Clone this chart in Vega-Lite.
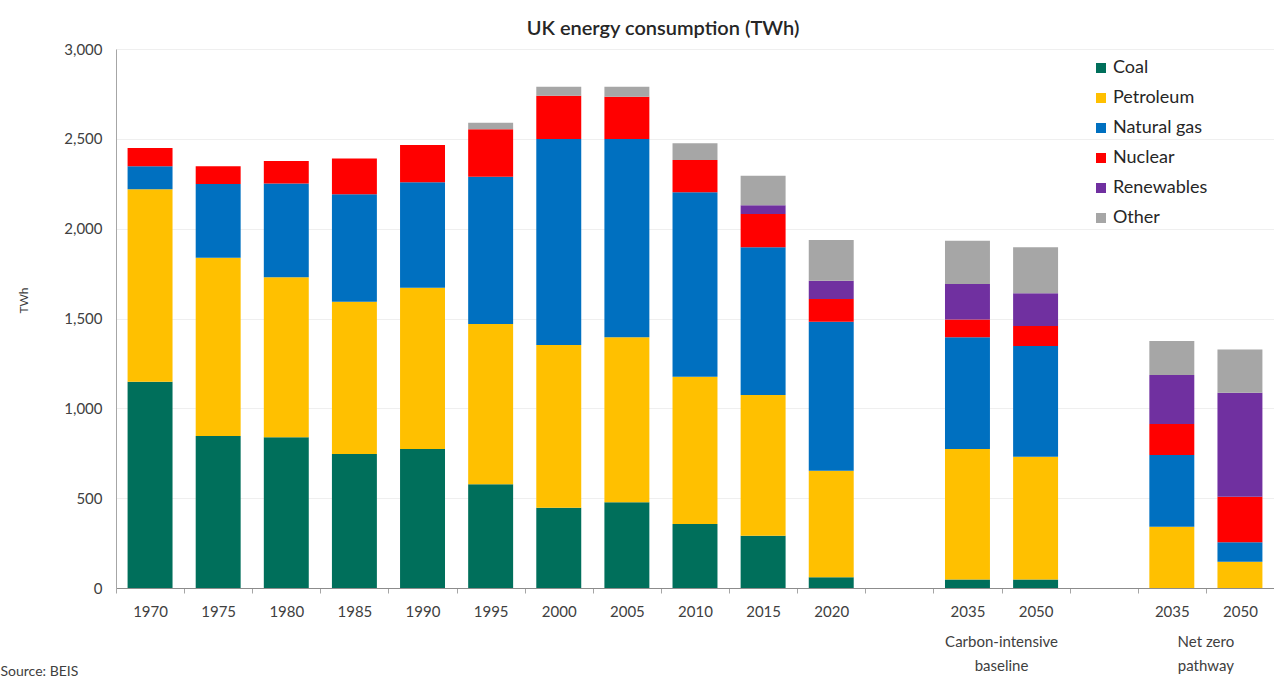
{
  "$schema": "https://vega.github.io/schema/vega-lite/v6.json",
  "width": 1158,
  "height": 539,
  "autosize": {"type": "none"},
  "padding": {"left": 116, "top": 49, "right": 0, "bottom": 89},
  "background": "white",
  "config": {
    "font": "Lato",
    "view": {"stroke": null}
  },
  "title": {
    "text": "UK energy consumption (TWh)",
    "fontSize": 20,
    "fontWeight": 600,
    "color": "#262626",
    "anchor": "middle",
    "dx": -32,
    "offset": 3
  },
  "datasets": {
    "energy": [
      {"cat": "1970", "source": "Coal", "twh": 1148},
      {"cat": "1970", "source": "Petroleum", "twh": 1071},
      {"cat": "1970", "source": "Natural gas", "twh": 129},
      {"cat": "1970", "source": "Nuclear", "twh": 101},
      {"cat": "1975", "source": "Coal", "twh": 846},
      {"cat": "1975", "source": "Petroleum", "twh": 992},
      {"cat": "1975", "source": "Natural gas", "twh": 410},
      {"cat": "1975", "source": "Nuclear", "twh": 100},
      {"cat": "1980", "source": "Coal", "twh": 839},
      {"cat": "1980", "source": "Petroleum", "twh": 890},
      {"cat": "1980", "source": "Natural gas", "twh": 523},
      {"cat": "1980", "source": "Nuclear", "twh": 124},
      {"cat": "1985", "source": "Coal", "twh": 746},
      {"cat": "1985", "source": "Petroleum", "twh": 847},
      {"cat": "1985", "source": "Natural gas", "twh": 598},
      {"cat": "1985", "source": "Nuclear", "twh": 200},
      {"cat": "1990", "source": "Coal", "twh": 774},
      {"cat": "1990", "source": "Petroleum", "twh": 897},
      {"cat": "1990", "source": "Natural gas", "twh": 587},
      {"cat": "1990", "source": "Nuclear", "twh": 207},
      {"cat": "1995", "source": "Coal", "twh": 577},
      {"cat": "1995", "source": "Petroleum", "twh": 892},
      {"cat": "1995", "source": "Natural gas", "twh": 820},
      {"cat": "1995", "source": "Nuclear", "twh": 265},
      {"cat": "1995", "source": "Other", "twh": 36},
      {"cat": "2000", "source": "Coal", "twh": 447},
      {"cat": "2000", "source": "Petroleum", "twh": 905},
      {"cat": "2000", "source": "Natural gas", "twh": 1147},
      {"cat": "2000", "source": "Nuclear", "twh": 241},
      {"cat": "2000", "source": "Other", "twh": 50},
      {"cat": "2005", "source": "Coal", "twh": 477},
      {"cat": "2005", "source": "Petroleum", "twh": 918},
      {"cat": "2005", "source": "Natural gas", "twh": 1104},
      {"cat": "2005", "source": "Nuclear", "twh": 235},
      {"cat": "2005", "source": "Other", "twh": 56},
      {"cat": "2010", "source": "Coal", "twh": 356},
      {"cat": "2010", "source": "Petroleum", "twh": 820},
      {"cat": "2010", "source": "Natural gas", "twh": 1026},
      {"cat": "2010", "source": "Nuclear", "twh": 180},
      {"cat": "2010", "source": "Other", "twh": 93},
      {"cat": "2015", "source": "Coal", "twh": 291},
      {"cat": "2015", "source": "Petroleum", "twh": 783},
      {"cat": "2015", "source": "Natural gas", "twh": 822},
      {"cat": "2015", "source": "Nuclear", "twh": 185},
      {"cat": "2015", "source": "Renewables", "twh": 50},
      {"cat": "2015", "source": "Other", "twh": 164},
      {"cat": "2020", "source": "Coal", "twh": 60},
      {"cat": "2020", "source": "Petroleum", "twh": 593},
      {"cat": "2020", "source": "Natural gas", "twh": 829},
      {"cat": "2020", "source": "Nuclear", "twh": 126},
      {"cat": "2020", "source": "Renewables", "twh": 102},
      {"cat": "2020", "source": "Other", "twh": 227},
      {"cat": "CI 2035", "source": "Coal", "twh": 48},
      {"cat": "CI 2035", "source": "Petroleum", "twh": 726},
      {"cat": "CI 2035", "source": "Natural gas", "twh": 621},
      {"cat": "CI 2035", "source": "Nuclear", "twh": 100},
      {"cat": "CI 2035", "source": "Renewables", "twh": 197},
      {"cat": "CI 2035", "source": "Other", "twh": 241},
      {"cat": "CI 2050", "source": "Coal", "twh": 48},
      {"cat": "CI 2050", "source": "Petroleum", "twh": 683},
      {"cat": "CI 2050", "source": "Natural gas", "twh": 616},
      {"cat": "CI 2050", "source": "Nuclear", "twh": 111},
      {"cat": "CI 2050", "source": "Renewables", "twh": 182},
      {"cat": "CI 2050", "source": "Other", "twh": 256},
      {"cat": "NZ 2035", "source": "Petroleum", "twh": 341},
      {"cat": "NZ 2035", "source": "Natural gas", "twh": 399},
      {"cat": "NZ 2035", "source": "Nuclear", "twh": 173},
      {"cat": "NZ 2035", "source": "Renewables", "twh": 272},
      {"cat": "NZ 2035", "source": "Other", "twh": 190},
      {"cat": "NZ 2050", "source": "Petroleum", "twh": 146},
      {"cat": "NZ 2050", "source": "Natural gas", "twh": 108},
      {"cat": "NZ 2050", "source": "Nuclear", "twh": 254},
      {"cat": "NZ 2050", "source": "Renewables", "twh": 579},
      {"cat": "NZ 2050", "source": "Other", "twh": 241}
    ],
    "groups": [
      {"cat": "CI 2035", "label": "Carbon-intensive\nbaseline"},
      {"cat": "NZ 2035", "label": "Net zero\npathway"}
    ]
  },
  "encoding": {
    "x": {
      "field": "cat",
      "type": "nominal",
      "scale": {
        "domain": ["1970", "1975", "1980", "1985", "1990", "1995", "2000", "2005", "2010", "2015", "2020", "gap1", "CI 2035", "CI 2050", "gap2", "NZ 2035", "NZ 2050"],
        "paddingInner": 0,
        "paddingOuter": 0
      },
      "axis": {
        "title": "Source: BEIS",
        "titleFontSize": 14,
        "titleFontWeight": "normal",
        "titleColor": "#404040",
        "titleAnchor": "start",
        "titleAlign": "left",
        "titleBaseline": "alphabetic",
        "titleX": -116,
        "titleY": 87,
        "labelExpr": "replace(datum.label, /^(gap.*|CI |NZ )/, '')",
        "labelAngle": 0,
        "labelFontSize": 15,
        "labelColor": "#404040",
        "labelPadding": 11,
        "tickBand": "extent",
        "tickSize": 5,
        "tickColor": "#a6a6a6",
        "domainColor": "#8c8c8c",
        "grid": false
      }
    }
  },
  "layer": [
    {
      "data": {"name": "energy"},
      "transform": [
        {"calculate": "indexof(['Coal', 'Petroleum', 'Natural gas', 'Nuclear', 'Renewables', 'Other'], datum.source)", "as": "stackorder"}
      ],
      "mark": {"type": "bar", "width": {"band": 0.66}},
      "encoding": {
        "y": {
          "field": "twh",
          "type": "quantitative",
          "stack": "zero",
          "scale": {"domain": [0, 3000], "nice": false},
          "axis": {
            "title": "TWh",
            "titleFontSize": 12,
            "titleFontWeight": "normal",
            "titleColor": "#404040",
            "titleX": -86,
            "titleY": 251,
            "values": [0, 500, 1000, 1500, 2000, 2500, 3000],
            "format": ",.0f",
            "labelFontSize": 15,
            "labelColor": "#404040",
            "labelPadding": 14,
            "ticks": false,
            "domainColor": "#a6a6a6",
            "gridColor": "#efefef",
            "gridWidth": 1
          }
        },
        "color": {
          "field": "source",
          "type": "nominal",
          "sort": ["Coal", "Petroleum", "Natural gas", "Nuclear", "Renewables", "Other"],
          "scale": {
            "domain": ["Coal", "Petroleum", "Natural gas", "Nuclear", "Renewables", "Other"],
            "range": ["#006F5B", "#FFC000", "#0070C0", "#FF0000", "#7030A0", "#A6A6A6"]
          },
          "legend": {
            "title": null,
            "orient": "none",
            "legendX": 976,
            "legendY": 10,
            "symbolType": "square",
            "symbolSize": 100,
            "labelFontSize": 18,
            "labelColor": "#262626",
            "labelOffset": 3,
            "rowPadding": 12
          }
        },
        "order": {"field": "stackorder", "type": "quantitative", "sort": "ascending"}
      }
    },
    {
      "data": {"name": "groups"},
      "mark": {
        "type": "text",
        "lineBreak": "\n",
        "lineHeight": 24,
        "baseline": "top",
        "align": "center",
        "fontSize": 15,
        "color": "#404040",
        "dy": 47
      },
      "encoding": {
        "x": {"field": "cat", "type": "nominal", "bandPosition": 1},
        "y": {"datum": 0, "type": "quantitative"},
        "text": {"field": "label"}
      }
    }
  ]
}
